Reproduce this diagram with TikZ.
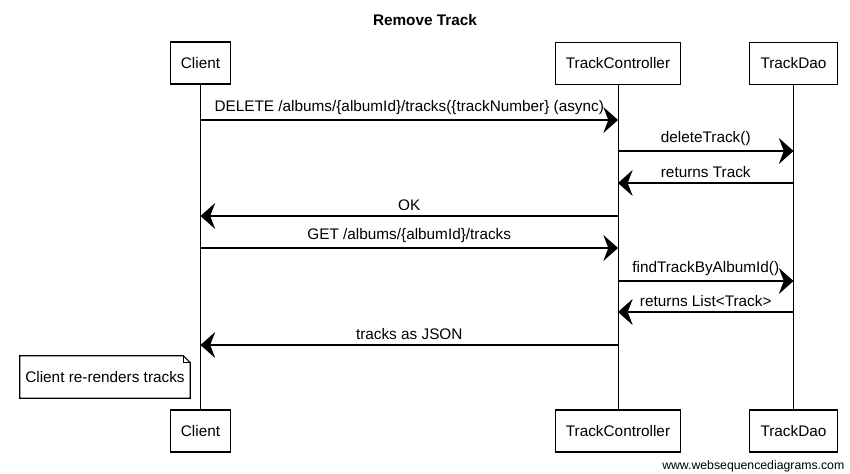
\documentclass[tikz,border=0pt]{standalone}
\usepackage{fontspec}
\setmainfont{Liberation Sans}
\usepackage{xcolor}
\usepackage{tikz}
\usetikzlibrary{arrows.meta,shapes}

\tikzset{
    actor/.style={draw, line width=0.8pt, minimum height=31.5pt, inner xsep=8pt,
        font=\fontsize{11.5}{13}\selectfont},
    life/.style={line width=0.7pt},
    msg/.style={line width=0.8pt, -{Stealth[length=11pt, width=19.5pt, inset=3.75pt]}},
    mlabel/.style={font=\fontsize{11.5}{13}\selectfont, above=0.5pt},
    note/.style={inner xsep=4pt, minimum height=31.5pt, font=\fontsize{11.5}{13}\selectfont}
}

\begin{document}
\begin{tikzpicture}[x=0.75pt, y=-0.75pt]
        \useasboundingbox (0,0) rectangle (850,474);
        \node[font=\bfseries\fontsize{11.5}{13}\selectfont] (title) at (425,20) {Remove Track};
        % actors on top
        \node[actor] (client) at (200.5,63) {Client};
        \node[actor] (ctrl) at (618,63.5) {TrackController};
        \node[actor] (dao) at (793.5,63.5) {TrackDao};
        % actors at the bottom
        \node[actor] (clientb) at (200.5,431) {Client};
        \node[actor] (ctrlb) at (618,431) {TrackController};
        \node[actor] (daob) at (793.5,431) {TrackDao};
        % lifelines
        \draw[life] (client) -- (clientb);
        \draw[life] (ctrl) -- (ctrlb);
        \draw[life] (dao) -- (daob);
        % messages
        \draw[msg] (client.south |- 0,120) -- node[mlabel] {DELETE /albums/\{albumId\}/tracks(\{trackNumber\} (async)} (ctrl.south |- 0,120);
        \draw[msg] (ctrl.south |- 0,151) -- node[mlabel] {deleteTrack()} (dao.south |- 0,151);
        \draw[msg] (dao.south |- 0,183) -- node[mlabel] {returns Track} (ctrl.south |- 0,183);
        \draw[msg] (ctrl.south |- 0,216) -- node[mlabel] {OK} (client.south |- 0,216);
        \draw[msg] (client.south |- 0,248) -- node[mlabel] {GET /albums/\{albumId\}/tracks} (ctrl.south |- 0,248);
        \draw[msg] (ctrl.south |- 0,281) -- node[mlabel] {findTrackByAlbumId()} (dao.south |- 0,281);
        \draw[msg] (dao.south |- 0,312) -- node[mlabel] {returns List<Track>} (ctrl.south |- 0,312);
        \draw[msg] (ctrl.south |- 0,345) -- node[mlabel] {tracks as JSON} (client.south |- 0,345);
        % note
        \node[note, minimum width=127.5pt] (rerender) at (105,377) {Client re-renders tracks};
        \draw[line width=0.8pt] (rerender.south west) -- (rerender.north west)
            -- ([xshift=-5.25pt]rerender.north east) -- ([yshift=-5.25pt]rerender.north east)
            -- (rerender.south east) -- cycle;
        \draw[line width=0.5pt] ([xshift=-5.25pt]rerender.north east) |- ([yshift=-5.25pt]rerender.north east);
        \node[font=\fontsize{9.2}{11}\selectfont, anchor=east] (site) at (849,466) {www.websequencediagrams.com};
    \end{tikzpicture}
\end{document}
